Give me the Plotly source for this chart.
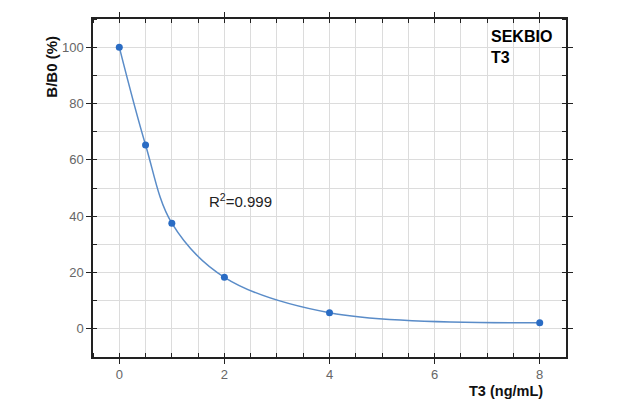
import plotly.graph_objects as go

conc = [0, 0.5, 1, 2, 4, 8]
b_b0 = [100, 65.3, 37.5, 18.3, 5.7, 2.2]

x_ticks = [0, 2, 4, 6, 8]
y_ticks = [0, 20, 40, 60, 80, 100]

font_family = "Liberation Sans, Arial, sans-serif"

fig = go.Figure()
fig.add_trace(go.Scatter(
    x=conc, y=b_b0, mode="lines",
    line=dict(color="#5a8cc8", width=1.5, shape="spline", smoothing=1.0),
    hoverinfo="skip", showlegend=False))
fig.add_trace(go.Scatter(
    x=conc, y=b_b0, mode="markers",
    marker=dict(color="#2a6cc4", size=7),
    showlegend=False))

axis_common = dict(
    showline=True, linecolor="#222", linewidth=1.5, mirror="allticks",
    ticks="outside", ticklen=5, tickcolor="#222", tickwidth=1,
    showgrid=True, gridcolor="#dcdcdc", gridwidth=1,
    zeroline=False,
    tickfont=dict(family=font_family, size=13, color="#666"),
)

fig.update_xaxes(
    range=[-0.5, 8.5], tickvals=x_ticks,
    minor=dict(dtick=0.5, tick0=0, ticks="inside", ticklen=4, tickcolor="#222",
               showgrid=True, gridcolor="#dcdcdc", gridwidth=1),
    **axis_common)
fig.update_yaxes(
    range=[-10, 110], tickvals=y_ticks,
    minor=dict(dtick=10, tick0=0, ticks="inside", ticklen=4, tickcolor="#222",
               showgrid=True, gridcolor="#dcdcdc", gridwidth=1),
    **axis_common)

fig.add_annotation(
    xref="paper", yref="paper", x=-0.088, y=0.86, text="<b>B/B0 (%)</b>",
    textangle=-90, showarrow=False, xanchor="center", yanchor="middle",
    font=dict(family=font_family, size=15, color="#111"))
fig.add_annotation(
    xref="x", yref="paper", x=8.1, y=-0.102, text="<b>T3 (ng/mL)</b>",
    showarrow=False, xanchor="right", yanchor="middle",
    font=dict(family=font_family, size=14.5, color="#111"))
fig.add_annotation(
    xref="x", yref="y", x=7.03, y=107.5, text="<b>SEKBIO<br>T3</b>",
    showarrow=False, xanchor="left", yanchor="top", align="left",
    font=dict(family=font_family, size=16, color="#000"))
fig.add_annotation(
    xref="x", yref="y", x=2.3, y=45.5, text="R<sup>2</sup>=0.999",
    showarrow=False, xanchor="center", yanchor="middle",
    font=dict(family=font_family, size=15, color="#222"))

fig.update_layout(
    width=631, height=406,
    margin=dict(l=93, r=65, t=17, b=49),
    paper_bgcolor="white", plot_bgcolor="white",
    font=dict(family=font_family),
)

fig.write_html("out.html")
